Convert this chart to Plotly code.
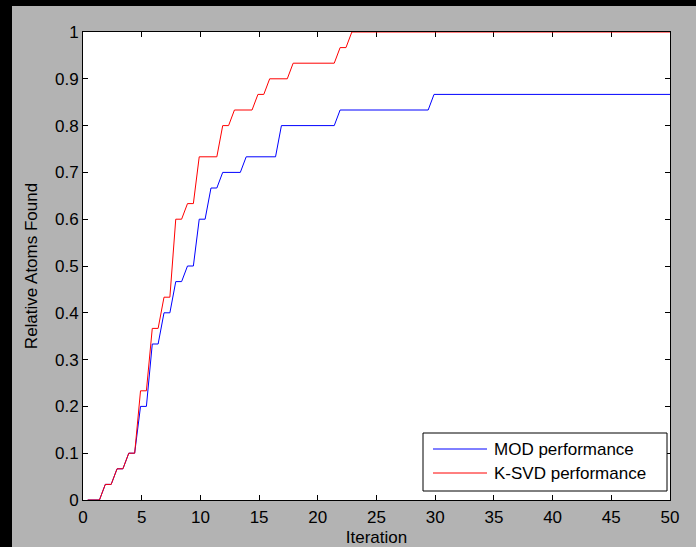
import plotly.graph_objects as go

# ---- data ----
TOTAL_ATOMS = 30

mod_iter = [0.4, 1.4, 1.9, 2.4, 2.9, 3.4, 3.9, 4.4, 4.9, 5.4, 5.9, 6.4, 6.9, 7.4,
            7.9, 8.4, 8.9, 9.4, 9.9, 10.4, 10.9, 11.4, 11.9, 13.4, 13.9, 16.4,
            16.9, 21.4, 21.9, 29.4, 29.9, 50]
mod_atoms = [0, 0, 1, 1, 2, 2, 3, 3, 6, 6, 10, 10, 12, 12,
             14, 14, 15, 15, 18, 18, 20, 20, 21, 21, 22, 22,
             24, 24, 25, 25, 26, 26]

ksvd_iter = [0.4, 1.4, 1.9, 2.4, 2.9, 3.4, 3.9, 4.4, 4.9, 5.4, 5.9, 6.4, 6.9, 7.4,
             7.9, 8.4, 8.9, 9.4, 9.9, 11.4, 11.9, 12.4, 12.9, 14.4, 14.9, 15.4,
             15.9, 17.4, 17.9, 21.4, 21.9, 22.4, 22.9, 50]
ksvd_atoms = [0, 0, 1, 1, 2, 2, 3, 3, 7, 7, 11, 11, 13, 13,
              18, 18, 19, 19, 22, 22, 24, 24, 25, 25, 26, 26,
              27, 27, 28, 28, 29, 29, 30, 30]

x_ticks = [0, 5, 10, 15, 20, 25, 30, 35, 40, 45, 50]
y_ticks = [0, 0.1, 0.2, 0.3, 0.4, 0.5, 0.6, 0.7, 0.8, 0.9, 1]
y_tick_labels = ["0", "0.1", "0.2", "0.3", "0.4", "0.5", "0.6", "0.7", "0.8", "0.9", "1"]

series_names = ["MOD performance", "K-SVD performance"]
series_colors = ["#0000ff", "#ff0000"]

# ---- figure ----
W, H = 696, 547
ML, MR, MT, MB = 83, 26, 32, 47
FONT = "Liberation Sans, Arial, sans-serif"
FS = 17

fig = go.Figure()
for xs, atoms, name, col in [(mod_iter, mod_atoms, series_names[0], series_colors[0]),
                             (ksvd_iter, ksvd_atoms, series_names[1], series_colors[1])]:
    fig.add_trace(go.Scatter(
        x=xs, y=[a / TOTAL_ATOMS for a in atoms],
        mode="lines", name=name, showlegend=False,
        line=dict(color=col, width=1), hoverinfo="skip",
    ))

pw = W - ML - MR
ph = H - MT - MB

def px2x(p):
    return (p - ML) / pw

def py2y(p):
    return (H - MB - p) / ph

# black window strips (left and top)
fig.add_shape(type="rect", xref="paper", yref="paper",
              x0=px2x(0), x1=px2x(12), y0=py2y(H), y1=py2y(0),
              fillcolor="black", line=dict(width=0), layer="below")
fig.add_shape(type="rect", xref="paper", yref="paper",
              x0=px2x(0), x1=px2x(W), y0=py2y(6), y1=py2y(0),
              fillcolor="black", line=dict(width=0), layer="below")

# legend box (MATLAB style)
LX0, LX1, LY0, LY1 = 423, 667, 433, 491
fig.add_shape(type="rect", xref="paper", yref="paper",
              x0=px2x(LX0), x1=px2x(LX1), y0=py2y(LY1), y1=py2y(LY0),
              fillcolor="white", line=dict(color="black", width=1), layer="above")
for i, (name, col) in enumerate(zip(series_names, series_colors)):
    yc = 449 + 24 * i
    fig.add_shape(type="line", xref="paper", yref="paper",
                  x0=px2x(433), x1=px2x(487), y0=py2y(yc), y1=py2y(yc),
                  line=dict(color=col, width=1), layer="above")
    fig.add_annotation(xref="paper", yref="paper", x=px2x(492), y=py2y(yc),
                       xanchor="left", yanchor="middle", text=name, showarrow=False,
                       font=dict(family=FONT, size=FS, color="black"))

axis_common = dict(
    showline=True, linecolor="black", linewidth=1, mirror="ticks",
    ticks="inside", ticklen=5, tickcolor="black", tickwidth=1,
    showgrid=False, zeroline=False, layer="below traces", automargin=False,
    tickfont=dict(family=FONT, size=FS, color="black"),
)

fig.update_xaxes(
    range=[0, 50], tickmode="array", tickvals=x_ticks, ticklabelstandoff=2,
    title=dict(text="Iteration", font=dict(family=FONT, size=FS, color="black"), standoff=7),
    **axis_common,
)
fig.update_yaxes(
    range=[0, 1], tickmode="array", tickvals=y_ticks, ticktext=y_tick_labels,
    title=dict(text="Relative Atoms Found", font=dict(family=FONT, size=FS, color="black"), standoff=13),
    **axis_common,
)

fig.update_layout(
    width=W, height=H,
    margin=dict(l=ML, r=MR, t=MT, b=MB, pad=0),
    paper_bgcolor="#b3b3b3", plot_bgcolor="white",
    font=dict(family=FONT, size=FS, color="black"),
    showlegend=False, hovermode=False,
)

fig.write_html(
    "out.html",
    config={"displayModeBar": False, "staticPlot": True},
    post_script="document.body.style.margin='0';document.body.style.background='black';",
)
